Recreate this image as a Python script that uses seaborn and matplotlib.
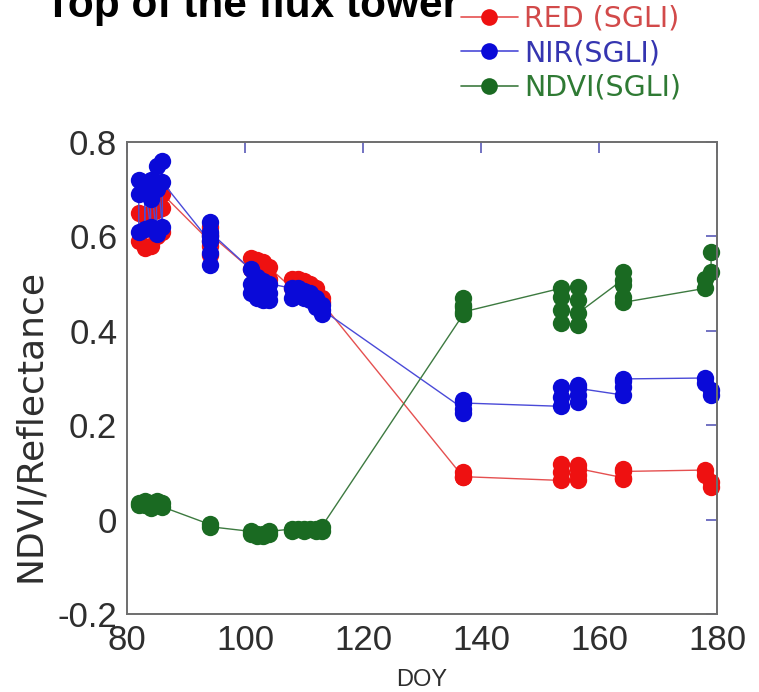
import matplotlib
matplotlib.use("Agg")
import matplotlib.pyplot as plt
import seaborn as sns
import pandas as pd
from matplotlib.lines import Line2D

# ---------------- data ----------------
red_doy = [82, 82, 83, 83, 84, 84, 85, 85, 86, 86, 86,
           94, 94, 94, 94, 94, 94,
           101, 101, 102, 102, 103, 103, 104, 104,
           108, 108, 109, 109, 110, 110, 111, 111, 112, 112, 113, 113,
           137, 137, 137,
           153.5, 153.5, 153.5,
           156.5, 156.5, 156.5, 156.5,
           164, 164, 164, 164,
           178, 178, 179, 179]
red_val = [0.59, 0.65, 0.575, 0.645, 0.58, 0.65, 0.60, 0.655, 0.61, 0.66, 0.69,
           0.59, 0.56, 0.58, 0.60, 0.62, 0.605,
           0.53, 0.555, 0.52, 0.55, 0.515, 0.545, 0.51, 0.535,
           0.49, 0.51, 0.49, 0.51, 0.48, 0.505, 0.475, 0.50, 0.465, 0.49, 0.47, 0.46,
           0.09, 0.10, 0.091,
           0.083, 0.10, 0.118,
           0.115, 0.095, 0.083, 0.108,
           0.089, 0.108, 0.085, 0.102,
           0.105, 0.095, 0.08, 0.07]

nir_doy = [82, 82, 82, 83, 83, 83, 84, 84, 84, 85, 85, 85, 86, 86, 86,
           94, 94, 94, 94, 94, 94,
           101, 101, 101, 102, 102, 102, 103, 103, 103, 104, 104, 104,
           108, 108, 109, 109, 110, 110, 111, 111, 112, 112, 113, 113, 113,
           137, 137, 137, 137,
           153.5, 153.5, 153.5,
           156.5, 156.5, 156.5, 156.5,
           164, 164, 164, 164,
           178, 178, 179, 179]
nir_val = [0.61, 0.69, 0.72, 0.70, 0.615, 0.71, 0.62, 0.68, 0.72, 0.605, 0.70, 0.75, 0.62, 0.76, 0.715,
           0.59, 0.54, 0.565, 0.60, 0.63, 0.61,
           0.53, 0.50, 0.48, 0.47, 0.49, 0.515, 0.505, 0.475, 0.465, 0.465, 0.48, 0.50,
           0.49, 0.47, 0.475, 0.49, 0.485, 0.47, 0.465, 0.48, 0.47, 0.45, 0.435, 0.455, 0.445,
           0.235, 0.254, 0.226, 0.247,
           0.24, 0.26, 0.28,
           0.285, 0.25, 0.265, 0.278,
           0.264, 0.28, 0.294, 0.298,
           0.30, 0.29, 0.275, 0.265]

ndvi_doy = [82, 82, 83, 83, 84, 84, 85, 85, 86, 86,
            94, 94,
            101, 101, 102, 102, 103, 103, 104, 104,
            108, 108, 109, 110, 110, 111, 112, 112, 113, 113,
            137, 137, 137, 137, 137,
            153.5, 153.5, 153.5, 153.5,
            156.5, 156.5, 156.5, 156.5,
            164, 164, 164, 164, 164,
            178, 178, 179, 179]
ndvi_val = [0.03, 0.035, 0.03, 0.04, 0.035, 0.025, 0.04, 0.03, 0.035, 0.027,
            -0.01, -0.015,
            -0.025, -0.03, -0.035, -0.03, -0.035, -0.03, -0.03, -0.025,
            -0.02, -0.025, -0.02, -0.025, -0.02, -0.02, -0.025, -0.02, -0.025, -0.015,
            0.435, 0.45, 0.47, 0.455, 0.44,
            0.49, 0.472, 0.444, 0.417,
            0.413, 0.466, 0.493, 0.438,
            0.508, 0.525, 0.497, 0.472, 0.46,
            0.49, 0.51, 0.525, 0.567]

series_names = ["RED (SGLI)", "NIR(SGLI)", "NDVI(SGLI)"]
xticks = [80, 100, 120, 140, 160, 180]
yticks = [-0.2, 0, 0.2, 0.4, 0.6, 0.8]
ytick_labels = ["-0.2", "0", "0.2", "0.4", "0.6", "0.8"]

# ---------------- styling ----------------
sns.set_theme(style="white")
plt.rcParams["font.family"] = ["Liberation Sans", "DejaVu Sans"]

marker_cols = ["#ee1111", "#0a0ad8", "#1a6a22"]
line_cols = ["#e55050", "#4a4ad8", "#3d7a40"]
text_cols = ["#d24a4a", "#3535b0", "#2f7a34"]

W, H = 759, 692
fig = plt.figure(figsize=(W / 100, H / 100), dpi=100)
ax = fig.add_axes([127 / W, 1 - 614 / H, (717 - 127) / W, (614 - 142) / H])

frames = [
    pd.DataFrame({"DOY": red_doy, "v": red_val}),
    pd.DataFrame({"DOY": nir_doy, "v": nir_val}),
    pd.DataFrame({"DOY": ndvi_doy, "v": ndvi_val}),
]
for df, mc, lc in zip(frames, marker_cols, line_cols):
    sns.lineplot(data=df, x="DOY", y="v", ax=ax, estimator=None, sort=False,
                 color=lc, linewidth=1.0, marker="o", markersize=12.5,
                 markerfacecolor=mc, markeredgecolor=mc, markeredgewidth=0,
                 clip_on=False)

ax.set_xlim(80, 180)
ax.set_ylim(-0.2, 0.8)
ax.set_xticks(xticks)
ax.set_xticklabels([str(t) for t in xticks])
ax.set_yticks(yticks)
ax.set_yticklabels(ytick_labels)

for sp in ax.spines.values():
    sp.set_color("#6e6e6e")
    sp.set_linewidth(1.4)

ax.tick_params(axis="both", which="major", direction="in", length=8, width=1.2,
               color="#5a5ab8", top=True, right=True, labelsize=25,
               labelcolor="#2e2e2e", pad=7)

ax.set_xlabel("DOY", fontsize=17, color="#2e2e2e", labelpad=9)
ax.set_ylabel("NDVI/Reflectance", fontsize=26, color="#2e2e2e",
              family=["DejaVu Sans"])
ax.yaxis.set_label_coords(-0.135, 0.40)

# title (cropped at the top of the image)
fig.text(45 / W, 1 - 17 / H, "Top of the flux tower", fontsize=30.5,
         fontweight="bold", color="black", ha="left", va="baseline",
         family=["Liberation Sans", "DejaVu Sans"])

# legend
handles = [Line2D([0], [0], color=lc, lw=1.2, marker="o", markersize=12,
                  markerfacecolor=mc, markeredgewidth=0)
           for mc, lc in zip(marker_cols, line_cols)]
leg = fig.legend(handles, series_names, loc="upper left",
                 bbox_to_anchor=(461 / W, 1 - 5 / H), frameon=False,
                 prop={"family": "DejaVu Sans", "size": 20.5},
                 handlelength=2.0, handletextpad=0.22, labelspacing=0.22,
                 borderpad=0, borderaxespad=0)
for t, c in zip(leg.get_texts(), text_cols):
    t.set_color(c)

fig.savefig("out.png", dpi=100, facecolor="white")
